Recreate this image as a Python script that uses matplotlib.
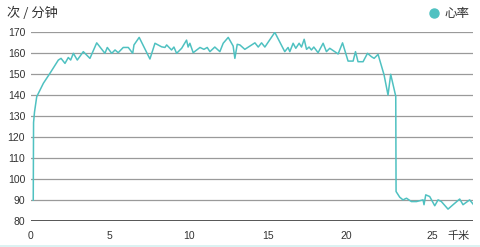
import numpy as np
import matplotlib
matplotlib.use("Agg")
import matplotlib.pyplot as plt
import matplotlib.transforms as mtransforms
from matplotlib.lines import Line2D
from matplotlib.patches import Rectangle

# heart rate (bpm) against distance (km)
distance_km = [
    0.16, 0.18, 0.24, 0.38, 0.80, 1.22, 1.75, 1.92, 2.17, 2.38, 2.53, 2.70,
    2.95, 3.33, 3.75, 4.18, 4.70, 4.85, 5.13, 5.34, 5.54, 5.86, 6.18, 6.46,
    6.54, 6.87, 7.55, 7.87, 8.29, 8.50, 8.61, 8.92, 9.07, 9.24, 9.56, 9.87,
    9.97, 10.08, 10.29, 10.72, 10.97, 11.18, 11.35, 11.66, 11.98, 12.19,
    12.51, 12.82, 12.93, 13.08, 13.25, 13.56, 14.20, 14.41, 14.62, 14.83,
    15.46, 16.09, 16.30, 16.41, 16.62, 16.79, 17.00, 17.15, 17.32, 17.47,
    17.63, 17.78, 17.93, 18.20, 18.52, 18.73, 18.94, 19.47, 19.75, 20.10,
    20.42, 20.57, 20.73, 21.05, 21.33, 21.58, 21.75, 22.00, 22.38, 22.63,
    22.80, 23.12, 23.14, 23.37, 23.58, 23.80, 24.11, 24.43, 24.85, 24.91,
    25.02, 25.27, 25.59, 25.80, 26.01, 26.43, 26.75, 27.17, 27.38, 27.80,
    28.05,
]
heart_rate = [
    90, 127, 132, 139.3, 145.7, 150.5, 156.8, 157.6, 155.2, 158, 156.8, 160,
    156.8, 160.8, 157.6, 165, 160, 162.8, 160, 161.6, 160.3, 162.8, 162.8, 160,
    164, 167.6, 157.3, 164.8, 163.1, 162.8, 164, 161.6, 163, 160, 162.4, 166.3,
    163, 164.8, 160.3, 162.8, 161.9, 162.8, 160.8, 163, 160.8, 164.8,
    167.6, 163.5, 157.6, 164.3, 164, 161.9, 165, 163, 165, 163,
    170, 160.8, 162.8, 160.8, 164.8, 162.4, 164.8, 163, 166.7, 161.9,
    163, 161.6, 163, 160.3, 164.8, 160.8, 162.4, 159.7, 165, 156.3,
    156.3, 160.8, 156, 156, 160, 158.4, 157.6, 159.5, 149.7, 140.1,
    150, 139.5, 94.1, 91.4, 90.1, 90.9, 89.3, 89.3, 90.1, 87.8,
    92.5, 91.7, 87.3, 90.1, 89.3, 85.7, 87.8, 90.5, 87.8, 90.1,
    87.8,
]

y_ticks = [80, 90, 100, 110, 120, 130, 140, 150, 160, 170]
x_ticks = [0, 5, 10, 15, 20, 25]

teal = "#4fc1c1"
cjk = ["Noto Sans CJK SC", "DejaVu Sans"]
num_font = "Liberation Sans"

fig = plt.figure(figsize=(4.8, 2.47), dpi=100)
ax = fig.add_axes([0.064, 0.105, 0.921, 0.764])

# horizontal grid lines, the 80 line is the darker baseline
for v in y_ticks:
    if v == 80:
        ax.axhline(v, color="#555555", lw=1.4, zorder=1)
    else:
        ax.axhline(v, color="#9a9a9a", lw=0.9, zorder=1)

ax.plot(distance_km, heart_rate, color=teal, lw=1.1, zorder=3)

ax.set_xlim(0, 28)
ax.set_ylim(80, 170)
ax.set_yticks(y_ticks)
ax.set_xticks(x_ticks)
ax.set_yticklabels([str(v) for v in y_ticks], fontsize=7.5,
                   family=num_font, color="#333333")
ax.set_xticklabels([str(v) for v in x_ticks], fontsize=7.5,
                   family=num_font, color="#333333")
ax.tick_params(axis="both", length=0)
ax.tick_params(axis="y", pad=4)
ax.tick_params(axis="x", pad=7)
for s in ax.spines.values():
    s.set_visible(False)

# the "25" label sits a little to the right in the reference
last = ax.get_xticklabels()[-1]
last.set_transform(last.get_transform() +
                   mtransforms.ScaledTranslation(7 / 100, 0, fig.dpi_scale_trans))

fig.text(7 / 480, 1 - 13 / 247, "次 / 分钟", family=cjk, fontsize=9.5,
         color="#333333", va="center", ha="left")
fig.text(470 / 480, 1 - 236 / 247, "千米", family=cjk, fontsize=8,
         color="#333333", va="center", ha="right")

# legend
fig.add_artist(Line2D([434 / 480], [1 - 13 / 247], transform=fig.transFigure,
                      marker="o", markersize=6.5, color=teal, lw=0))
fig.text(444 / 480, 1 - 13 / 247, "心率", family=cjk, fontsize=9,
         color="#333333", va="center", ha="left")

# thin light strip along the bottom edge
fig.patches.append(Rectangle((0, 0), 1, 2.5 / 247, transform=fig.transFigure,
                             color="#dcf2f2", lw=0))

fig.savefig("out.png", dpi=100)
